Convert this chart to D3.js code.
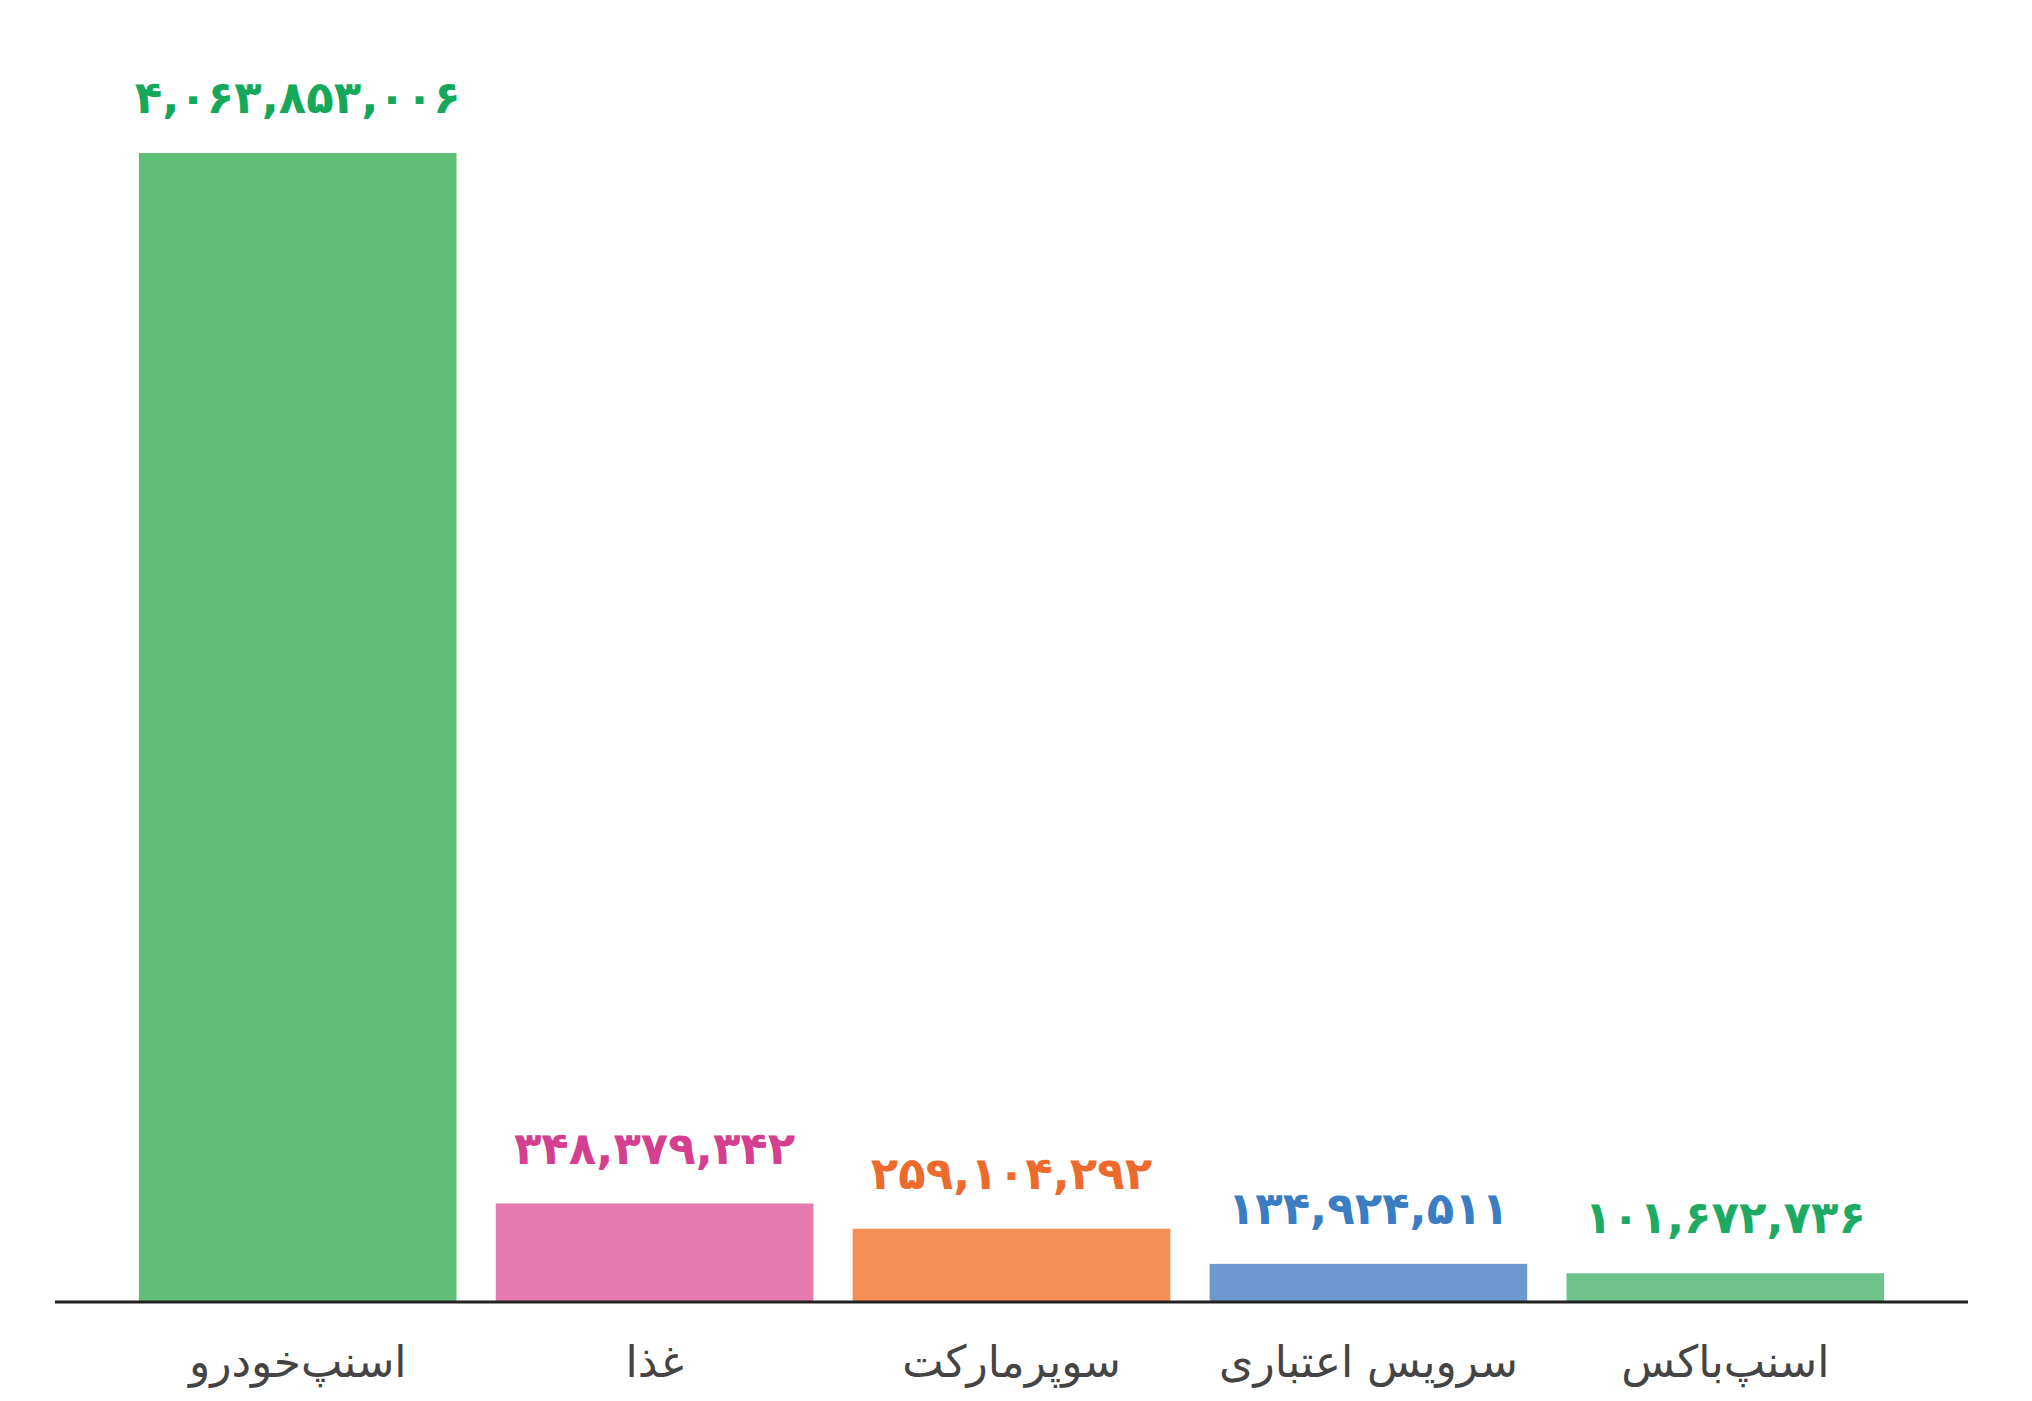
<!DOCTYPE html>
<html>
<head>
<meta charset="utf-8">
<script src="https://cdn.jsdelivr.net/npm/d3@7"></script>
<style>
html,body{margin:0;padding:0;background:#fff;}
svg{display:block;}
</style>
</head>
<body>
<svg id="chart" width="2032" height="1401"></svg>
<script>
const categories = ["اسنپ‌خودرو", "غذا", "سوپرمارکت", "سرویس اعتباری", "اسنپ‌باکس"];
const values = [4063853006, 348379342, 259104292, 134924511, 101672736];
const barColors = ["#5fbe78", "#e47aae", "#f58f57", "#6c9ad0", "#6ec28a"];
const labelColors = ["#16a85a", "#d4408f", "#ec6b2c", "#3b7dc2", "#1eaa63"];

const svg = d3.select("#chart");
const left = 55, right = 1968, baseY = 1302, topY = 153;

const x = d3.scaleBand().domain(categories).range([left, right])
  .paddingInner(0.11).paddingOuter(0.235);
const y = d3.scaleLinear().domain([0, d3.max(values)]).range([baseY, topY]);

const fa = s => s.replace(/\d/g, d => "۰۱۲۳۴۵۶۷۸۹"[+d]);
const fmt = d3.format(",");

const data = categories.map((c, i) => ({c, v: values[i], i}));

svg.selectAll("rect.bar").data(data).join("rect")
  .attr("class", "bar")
  .attr("x", d => x(d.c))
  .attr("width", x.bandwidth())
  .attr("y", d => y(d.v))
  .attr("height", d => baseY - y(d.v))
  .attr("fill", d => barColors[d.i]);

svg.selectAll("text.val").data(data).join("text")
  .attr("class", "val")
  .attr("x", d => x(d.c) + x.bandwidth() / 2)
  .attr("y", d => y(d.v) - 40)
  .attr("text-anchor", "middle")
  .attr("direction", "ltr")
  .attr("font-family", "'DejaVu Sans', 'Noto Sans', sans-serif")
  .attr("font-weight", "bold")
  .attr("font-size", 45)
  .attr("fill", d => labelColors[d.i])
  .text(d => fa(fmt(d.v)));

const axis = svg.append("g").attr("transform", `translate(0,${baseY})`)
  .call(d3.axisBottom(x).tickSize(0).tickPadding(44));
axis.select(".domain").attr("d", `M${left},0H${right}`).attr("stroke", "#222").attr("stroke-width", 3);
axis.selectAll(".tick text")
  .attr("font-family", "'DejaVu Sans', 'Noto Sans', sans-serif")
  .attr("font-size", 44)
  .attr("fill", "#444")
  .attr("direction", "rtl");
</script>
</body>
</html>
